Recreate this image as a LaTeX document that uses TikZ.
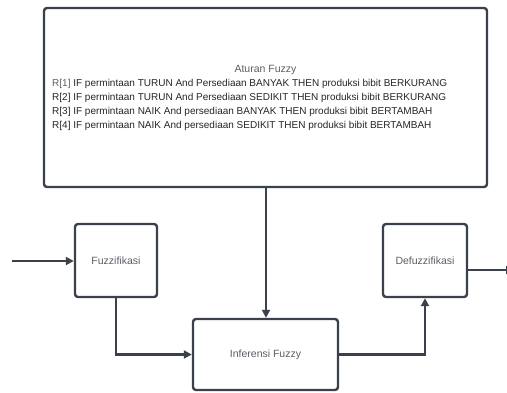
\documentclass[tikz,border=0pt]{standalone}
\usepackage{fontspec}
\setmainfont{Liberation Sans}
\usetikzlibrary{arrows.meta}
\definecolor{ln}{HTML}{3B414B}
\definecolor{tx}{HTML}{262626}
\definecolor{lt}{HTML}{5A5F66}
\tikzset{
  box/.style={draw=ln, line width=2.4pt, rounded corners=3pt, fill=white},
  conn/.style={draw=ln, line width=2.4pt, -{Triangle[width=8pt,length=8pt]}},
  lab/.style={text=lt, font=\fontsize{10.5}{12}\selectfont},
  rule/.style={text=tx, font=\fontsize{10}{12}\selectfont, anchor=west, inner sep=0pt},
}
\begin{document}
\begin{tikzpicture}[x=1pt,y=-1pt]
\useasboundingbox (0,0) rectangle (507,392);
% boxes
\draw[box] (44,8) rectangle (487,187);
\node[box, minimum width=82pt, minimum height=73pt] (fuz) at (116,260.5) {};
\node[lab] at (fuz) {Fuzzifikasi};
\node[box, minimum width=84pt, minimum height=73pt] (def) at (425,260.5) {};
\node[lab] at (def) {Defuzzifikasi};
\node[box, minimum width=145pt, minimum height=71pt] (inf) at (265.5,354.5) {};
\node[lab] at (inf) {Inferensi Fuzzy};
\coordinate (rb) at (266,187);
% text
\node[lab] at (265.5,70) {Aturan Fuzzy};
\node[rule] at (52,84) {\textcolor{lt}{R[1]} IF permintaan TURUN And Persediaan BANYAK THEN produksi bibit BERKURANG};
\node[rule] at (52,98) {R[2] IF permintaan TURUN And Persediaan SEDIKIT THEN produksi bibit BERKURANG};
\node[rule] at (52,112) {R[3] IF permintaan NAIK And persediaan BANYAK THEN produksi bibit BERTAMBAH};
\node[rule] at (52,126) {R[4] IF permintaan NAIK And persediaan SEDIKIT THEN produksi bibit BERTAMBAH};
% connectors
\coordinate (in) at (12,261);
\coordinate (out) at (514,270);
\draw[conn] (in) -- (fuz.west |- in);
\draw[conn] (fuz.south) |- (inf.west);
\draw[conn] (rb) -- (inf.north -| rb);
\draw[conn] (inf.east) -| (def.south);
\draw[conn] (def.east |- out) -- (out);
\end{tikzpicture}
\end{document}
